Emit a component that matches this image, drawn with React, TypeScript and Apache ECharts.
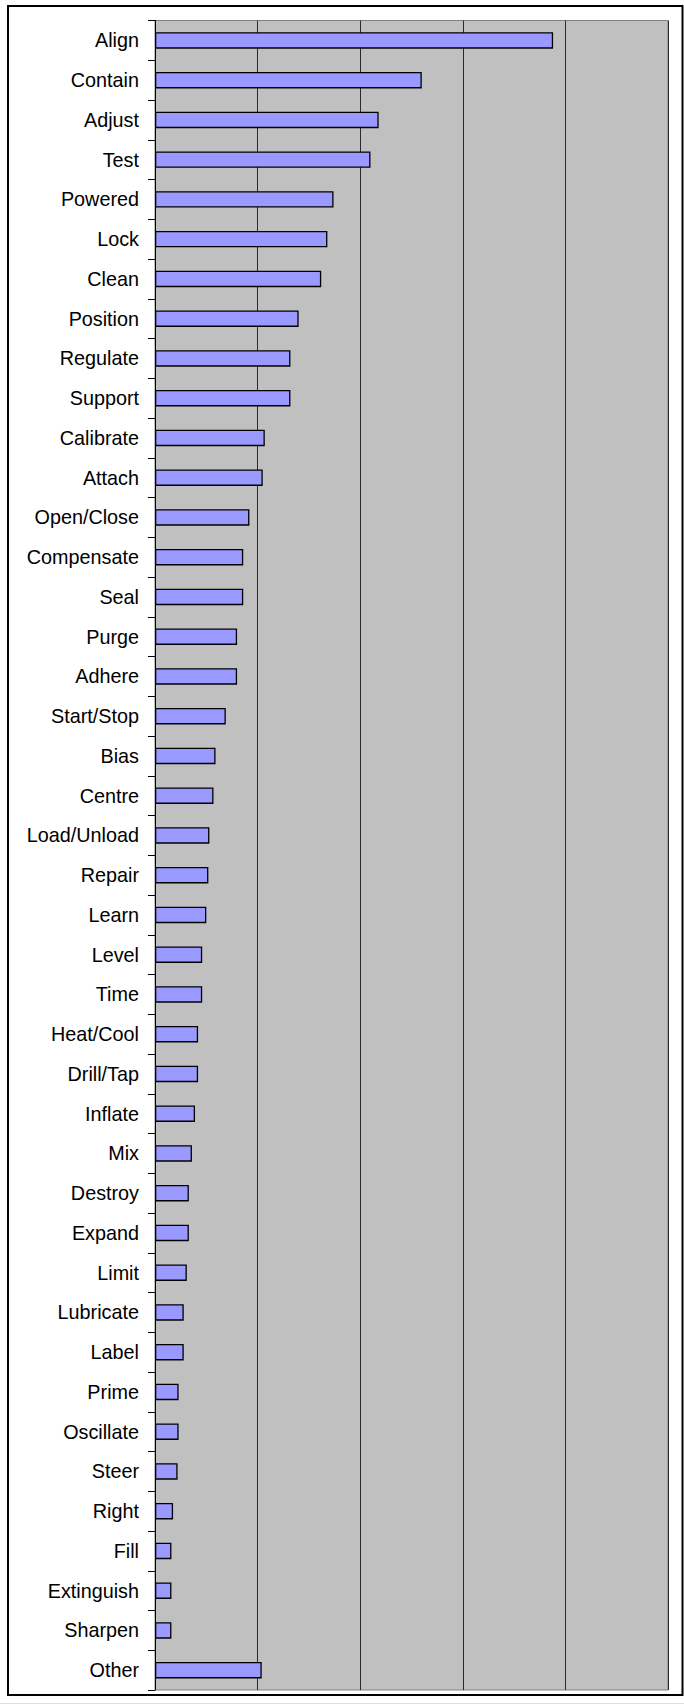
import React, { useEffect, useRef } from "react";
import * as echarts from "echarts";

const categories: string[] = [
  "Align", "Contain", "Adjust", "Test", "Powered", "Lock", "Clean", "Position",
  "Regulate", "Support", "Calibrate", "Attach", "Open/Close", "Compensate", "Seal",
  "Purge", "Adhere", "Start/Stop", "Bias", "Centre", "Load/Unload", "Repair", "Learn",
  "Level", "Time", "Heat/Cool", "Drill/Tap", "Inflate", "Mix", "Destroy", "Expand",
  "Limit", "Lubricate", "Label", "Prime", "Oscillate", "Steer", "Right", "Fill",
  "Extinguish", "Sharpen", "Other",
];

const values: number[] = [
  19.4, 13.0, 10.9, 10.5, 8.7, 8.4, 8.1, 7.0,
  6.6, 6.6, 5.35, 5.25, 4.6, 4.3, 4.3,
  4.0, 4.0, 3.45, 2.95, 2.85, 2.65, 2.6, 2.5,
  2.3, 2.3, 2.1, 2.1, 1.95, 1.8, 1.65, 1.65,
  1.55, 1.4, 1.4, 1.15, 1.15, 1.1, 0.88, 0.8,
  0.8, 0.8, 5.2,
];

const xMin = 0;
const xMax = 25;
const xInterval = 5;

export default function App() {
  const ref = useRef<HTMLDivElement>(null);
  useEffect(() => {
    if (!ref.current) return;
    const chart = echarts.init(ref.current, null, { renderer: "svg" });
    chart.setOption({
      animation: false,
      backgroundColor: "#ffffff",
      grid: {
        left: 155,
        right: 16,
        top: 20.5,
        bottom: 15,
        show: true,
        backgroundColor: "#C0C0C0",
        borderColor: "#808080",
        borderWidth: 1,
        containLabel: false,
      },
      xAxis: {
        type: "value",
        min: xMin,
        max: xMax,
        interval: xInterval,
        axisLabel: { show: false },
        axisTick: { show: false },
        axisLine: { show: false },
        splitLine: { show: true, lineStyle: { color: "#2a2a2a", width: 1 } },
      },
      yAxis: {
        type: "category",
        data: categories,
        inverse: true,
        axisLine: { show: true, lineStyle: { color: "#000000", width: 1 } },
        axisTick: {
          show: true,
          inside: false,
          length: 7,
          alignWithLabel: false,
          lineStyle: { color: "#000000", width: 1 },
        },
        axisLabel: {
          margin: 16,
          color: "#000000",
          fontSize: 19.8,
          fontFamily: "'Liberation Sans', Arial, sans-serif",
          interval: 0,
        },
        splitLine: { show: false },
      },
      series: [
        {
          type: "bar",
          data: values,
          barWidth: 16.5,
          itemStyle: {
            color: "#9999FF",
            borderColor: "#000000",
            borderWidth: 1.3,
          },
        },
      ],
      graphic: [
        {
          type: "rect",
          shape: { x: 8, y: 6, width: 674.5, height: 1689 },
          style: { fill: "none", stroke: "#000000", lineWidth: 2 },
          silent: true,
        },
        {
          type: "line",
          shape: { x1: 0, y1: 1703.5, x2: 684, y2: 1703.5 },
          style: { stroke: "#dddddd", lineWidth: 1 },
          silent: true,
        },
      ],
    });
    return () => chart.dispose();
  }, []);
  return (
    <div
      ref={ref}
      style={{ position: "absolute", left: 0, top: 0, width: 684, height: 1705 }}
    />
  );
}
